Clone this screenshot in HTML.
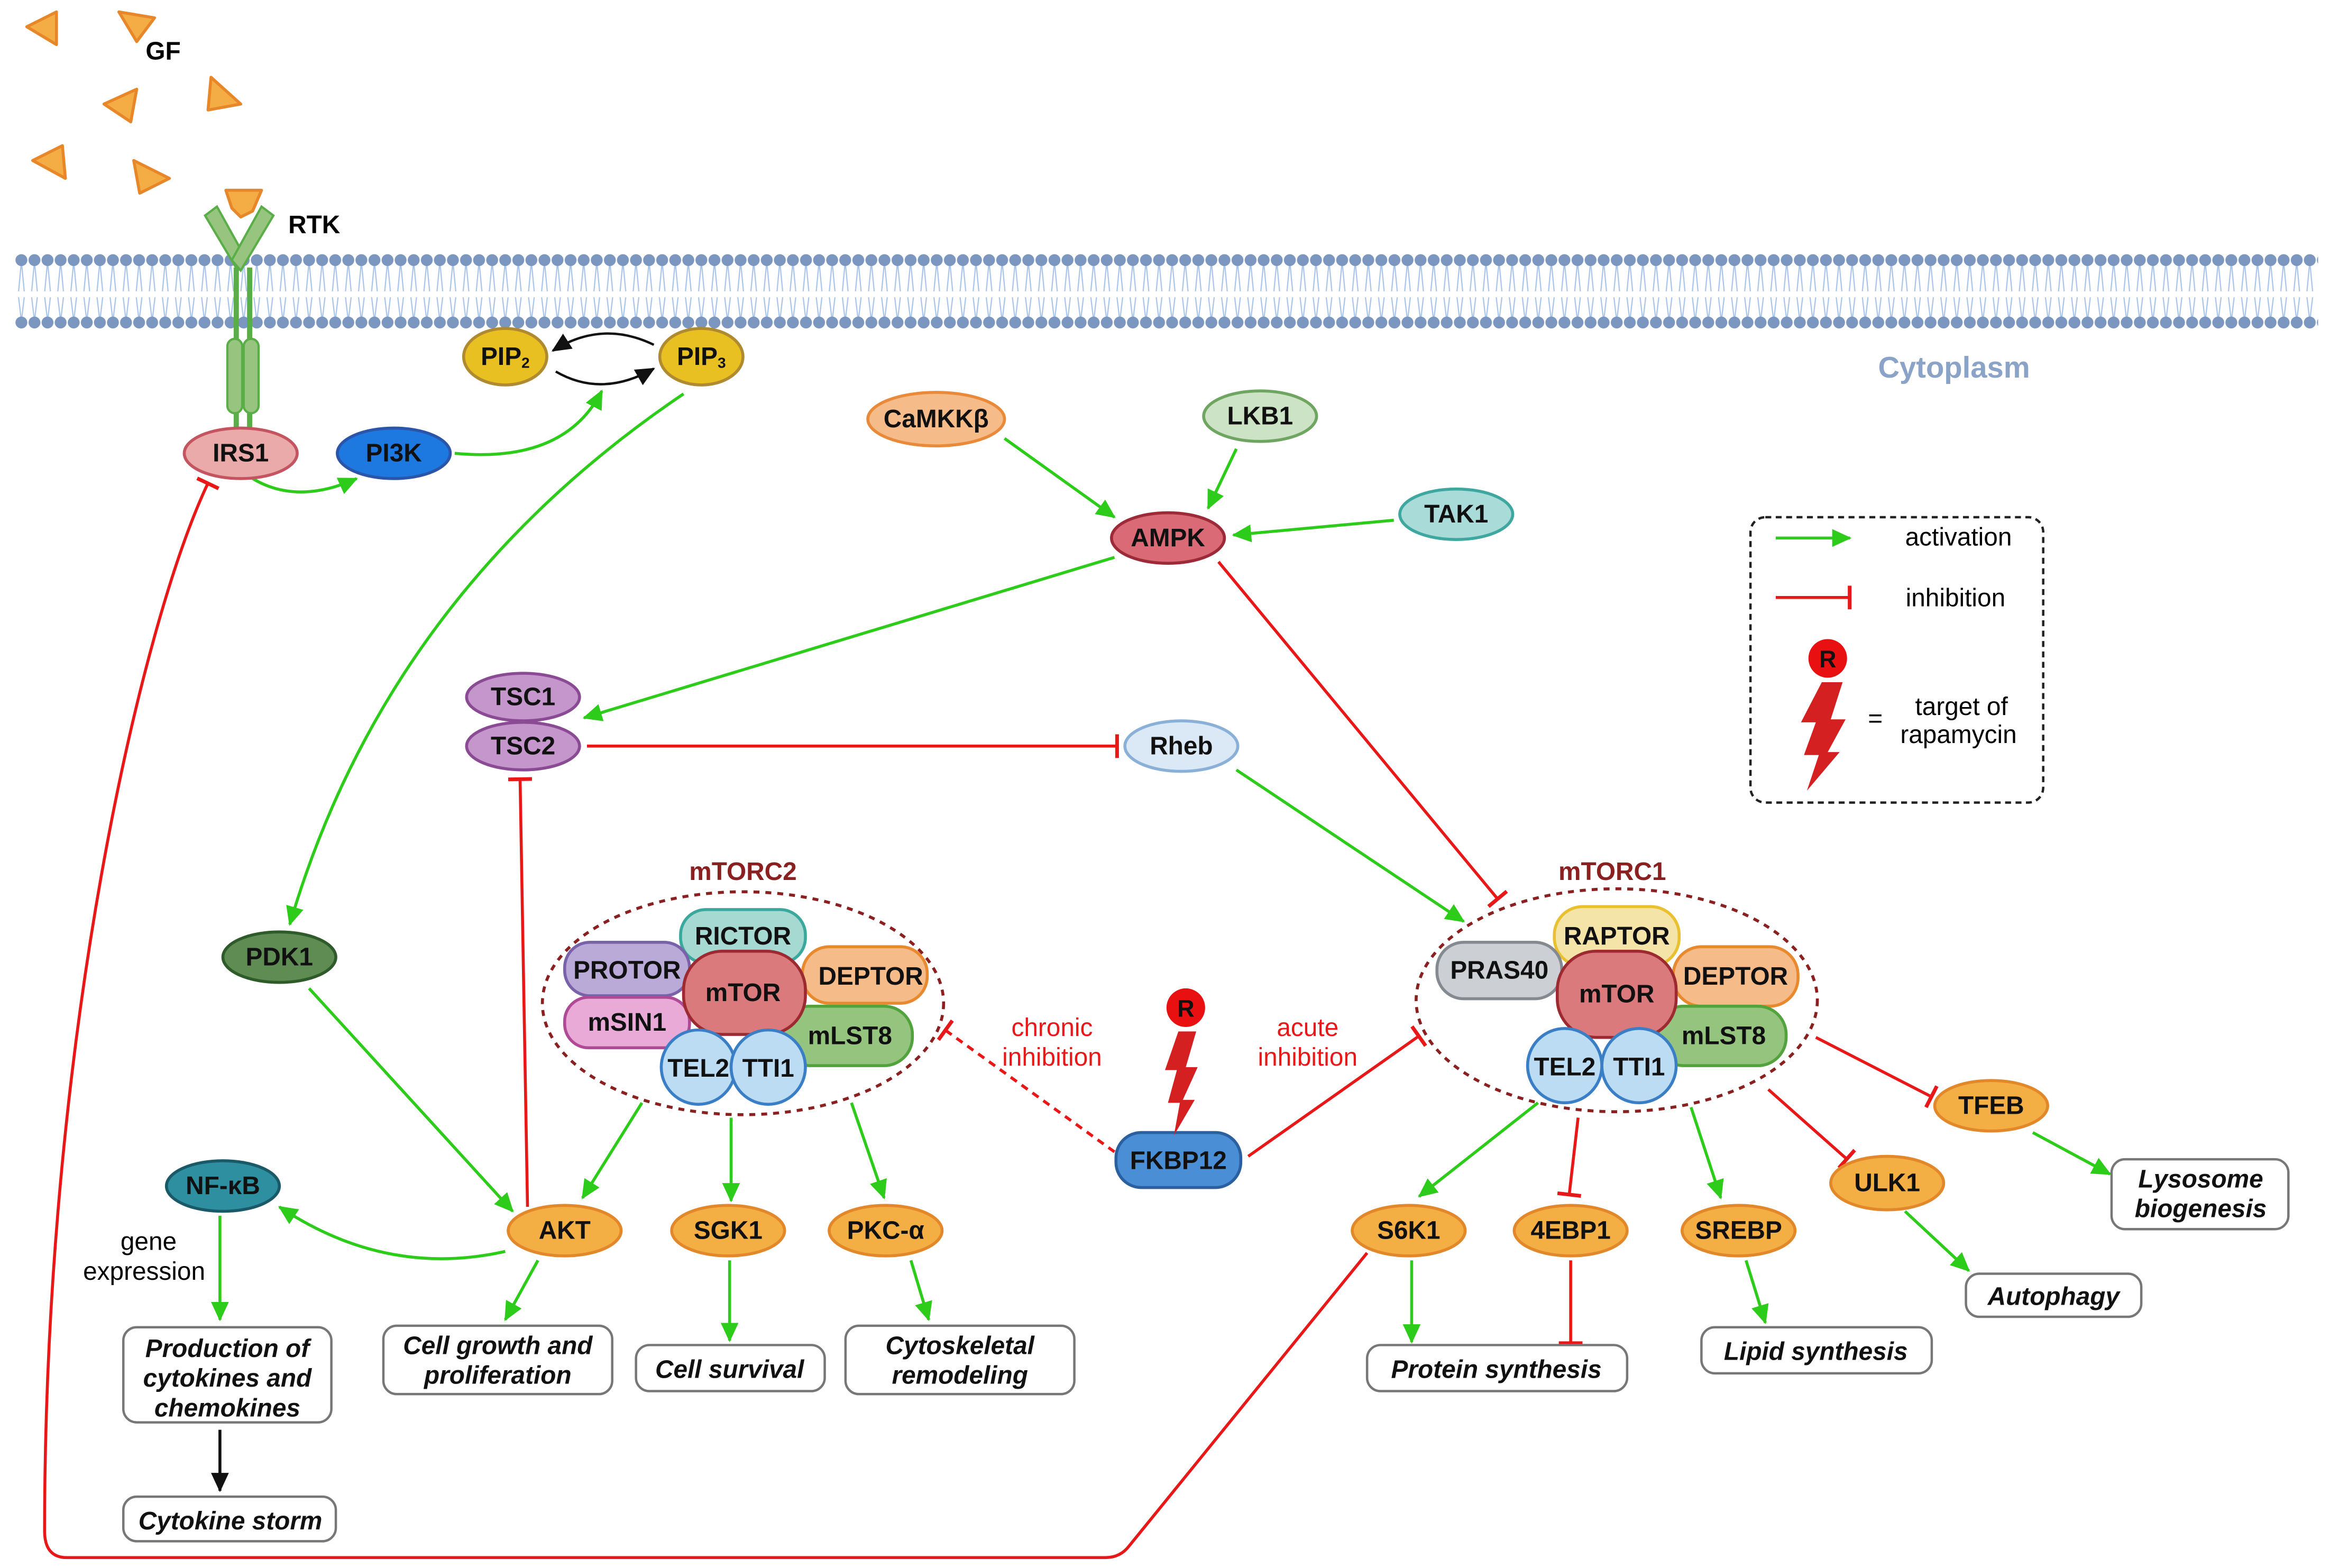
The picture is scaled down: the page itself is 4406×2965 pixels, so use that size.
<!DOCTYPE html>
<html><head><meta charset="utf-8"><style>
html,body{margin:0;padding:0;background:#fff;}
svg{display:block;}
text{font-family:"Liberation Sans",sans-serif;}
.n{font-weight:bold;font-size:17px;text-anchor:middle;dominant-baseline:central;fill:#111;}
.o{font-weight:bold;font-style:italic;font-size:17px;text-anchor:middle;fill:#111;}
</style></head><body>
<svg width="4406" height="2965" viewBox="0 0 1568 1055" preserveAspectRatio="none" xmlns="http://www.w3.org/2000/svg">
<defs>
<marker id="ga" markerUnits="userSpaceOnUse" markerWidth="14" markerHeight="12" refX="12" refY="6" orient="auto"><path d="M0,0 L13,6 L0,12 Z" fill="#2ecc1a"/></marker>
<marker id="ka" markerUnits="userSpaceOnUse" markerWidth="14" markerHeight="12" refX="12" refY="6" orient="auto"><path d="M0,0 L13,6 L0,12 Z" fill="#111"/></marker>
<marker id="rb" markerUnits="userSpaceOnUse" markerWidth="4" markerHeight="16" refX="2" refY="8" orient="auto"><rect x="0.5" y="0" width="2.5" height="16" fill="#e81818"/></marker>
<pattern id="mem" x="10" y="0" width="8.8" height="1055" patternUnits="userSpaceOnUse">
<path d="M4.4,176 L2.5,196 M4.4,176 L6.3,196 M2.5,200 L4.4,216 M6.3,200 L4.4,216" stroke="#a9c4ea" stroke-width="0.8" fill="none"/>
<circle cx="4.4" cy="175" r="4" fill="#7b96bf"/>
<circle cx="4.4" cy="217" r="4" fill="#7b96bf"/>
</pattern>
</defs>
<rect width="1568" height="1055" fill="#fff"/>
<rect x="10" y="168" width="1550" height="56" fill="url(#mem)"/>
<text x="1315" y="254" font-size="20" font-weight="bold" fill="#8aa3c6" text-anchor="middle">Cytoplasm</text>

<!-- GF -->
<g fill="#f3ad44" stroke="#e8872a" stroke-width="2" stroke-linejoin="round">
<path d="M18,18 L38,8 L38,30 Z"/>
<path d="M80,8 L104,12 L92,28 Z"/>
<path d="M142,52 L162,70 L140,74 Z"/>
<path d="M70,70 L92,60 L88,82 Z"/>
<path d="M22,108 L42,98 L44,120 Z"/>
<path d="M90,108 L114,120 L94,130 Z"/>
<path d="M152,128 L176,128 L170,142 L162,146 L156,140 Z"/>
</g>
<text x="98" y="40" font-size="17" font-weight="bold">GF</text>
<text x="194" y="157" font-size="17" font-weight="bold">RTK</text>
<!-- RTK -->
<g fill="#97c47f" stroke="#5aae47" stroke-width="1.5">
<path d="M138,145 L146,139 L166,175 L160,182 Z"/>
<path d="M184,145 L176,139 L156,175 L162,182 Z"/>
<line x1="159" y1="180" x2="159" y2="290" stroke-width="3.5"/>
<line x1="168" y1="180" x2="168" y2="290" stroke-width="3.5"/>
<rect x="153" y="228" width="10" height="50" rx="5"/>
<rect x="164" y="228" width="10" height="50" rx="5"/>
</g>

<!-- connectors green -->
<g fill="none" stroke="#2ecc1a" stroke-width="2" marker-end="url(#ga)">
<path d="M170,322 Q200,340 240,322"/>
<path d="M306,305 Q380,312 405,263"/>
<path d="M460,265 Q260,400 195,622"/>
<line x1="676" y1="295" x2="750" y2="348"/>
<line x1="832" y1="302" x2="813" y2="342"/>
<line x1="938" y1="350" x2="830" y2="360"/>
<line x1="750" y1="375" x2="393" y2="483"/>
<line x1="832" y1="518" x2="985" y2="620"/>
<line x1="208" y1="665" x2="345" y2="815"/>
<path d="M340,842 Q260,860 188,812"/>
<line x1="432" y1="742" x2="392" y2="806"/>
<line x1="492" y1="752" x2="492" y2="808"/>
<line x1="573" y1="742" x2="595" y2="806"/>
<line x1="362" y1="848" x2="340" y2="888"/>
<line x1="491" y1="848" x2="491" y2="902"/>
<line x1="613" y1="848" x2="625" y2="888"/>
<line x1="148" y1="818" x2="148" y2="888"/>
<line x1="1035" y1="742" x2="955" y2="805"/>
<line x1="1138" y1="745" x2="1158" y2="806"/>
<line x1="950" y1="848" x2="950" y2="903"/>
<line x1="1175" y1="848" x2="1188" y2="890"/>
<line x1="1282" y1="815" x2="1325" y2="855"/>
<line x1="1368" y1="762" x2="1420" y2="790"/>
<line x1="1195" y1="362" x2="1245" y2="362"/>
</g>
<line x1="148" y1="962" x2="148" y2="1003" stroke="#111" stroke-width="2" marker-end="url(#ka)"/>
<g fill="none" stroke="#111" stroke-width="1.6" marker-end="url(#ka)">
<path d="M440,232 Q405,215 372,236"/>
<path d="M374,250 Q405,268 440,248"/>
</g>
<!-- red -->
<g fill="none" stroke="#e81818" stroke-width="2" marker-end="url(#rb)">
<line x1="820" y1="378" x2="1008" y2="605"/>
<line x1="395" y1="502" x2="752" y2="502"/>
<line x1="355" y1="812" x2="350" y2="524"/>
<line x1="750" y1="775" x2="636" y2="693" stroke-dasharray="5,4"/>
<line x1="840" y1="778" x2="955" y2="697"/>
<line x1="1062" y1="752" x2="1056" y2="804"/>
<line x1="1190" y1="733" x2="1243" y2="780"/>
<line x1="1222" y1="698" x2="1300" y2="738"/>
<line x1="1057" y1="848" x2="1057" y2="904"/>
<path d="M920,843 L760,1040 Q754,1048 744,1048 L45,1048 Q30,1048 30,1030 C30,700 95,420 140,325"/>
<line x1="1195" y1="402" x2="1245" y2="402"/>
</g>

<!-- nodes -->
<g stroke-width="2">
<ellipse cx="340" cy="240" rx="28" ry="19" fill="#e8c021" stroke="#b08a30"/>
<ellipse cx="472" cy="240" rx="28" ry="19" fill="#e8c021" stroke="#b08a30"/>
<ellipse cx="162" cy="305" rx="38" ry="17" fill="#eaaaa9" stroke="#c45560"/>
<ellipse cx="265" cy="305" rx="38" ry="17" fill="#1d78e0" stroke="#2a55a8"/>
<ellipse cx="630" cy="282" rx="46" ry="18" fill="#f5bb88" stroke="#e88a3a"/>
<ellipse cx="848" cy="280" rx="38" ry="17" fill="#cce3c6" stroke="#6ea560"/>
<ellipse cx="980" cy="346" rx="38" ry="17" fill="#a9dcd8" stroke="#3ea8a0"/>
<ellipse cx="786" cy="362" rx="38" ry="17" fill="#d96a76" stroke="#9c2a38"/>
<ellipse cx="352" cy="469" rx="38" ry="16" fill="#c596cc" stroke="#8a4a94"/>
<ellipse cx="352" cy="502" rx="38" ry="16" fill="#c596cc" stroke="#8a4a94"/>
<ellipse cx="795" cy="502" rx="38" ry="17" fill="#dbe9f7" stroke="#8ab0d8"/>
<ellipse cx="188" cy="644" rx="38" ry="17" fill="#5e8c52" stroke="#2f5a2a"/>
<ellipse cx="150" cy="798" rx="38" ry="17" fill="#2d8fa0" stroke="#1a5a68"/>
<ellipse cx="380" cy="828" rx="38" ry="17" fill="#f3ae44" stroke="#e2882a"/>
<ellipse cx="490" cy="828" rx="38" ry="17" fill="#f3ae44" stroke="#e2882a"/>
<ellipse cx="596" cy="828" rx="38" ry="17" fill="#f3ae44" stroke="#e2882a"/>
<ellipse cx="948" cy="828" rx="38" ry="17" fill="#f3ae44" stroke="#e2882a"/>
<ellipse cx="1057" cy="828" rx="38" ry="17" fill="#f3ae44" stroke="#e2882a"/>
<ellipse cx="1170" cy="828" rx="38" ry="17" fill="#f3ae44" stroke="#e2882a"/>
<ellipse cx="1270" cy="796" rx="38" ry="18" fill="#f3ae44" stroke="#e2882a"/>
<ellipse cx="1340" cy="744" rx="38" ry="17" fill="#f3ae44" stroke="#e2882a"/>
<rect x="751" y="762" width="84" height="37" rx="17" fill="#4a8fd6" stroke="#2a5fa0"/>
</g>
<text class="n" x="340" y="240">PIP<tspan font-size="10" dy="4">2</tspan></text>
<text class="n" x="472" y="240">PIP<tspan font-size="10" dy="4">3</tspan></text>
<text class="n" x="162" y="305">IRS1</text>
<text class="n" x="265" y="305">PI3K</text>
<text class="n" x="630" y="282">CaMKKβ</text>
<text class="n" x="848" y="280">LKB1</text>
<text class="n" x="980" y="346">TAK1</text>
<text class="n" x="786" y="362">AMPK</text>
<text class="n" x="352" y="469">TSC1</text>
<text class="n" x="352" y="502">TSC2</text>
<text class="n" x="795" y="502">Rheb</text>
<text class="n" x="188" y="644">PDK1</text>
<text class="n" x="150" y="798">NF-κB</text>
<text class="n" x="380" y="828">AKT</text>
<text class="n" x="490" y="828">SGK1</text>
<text class="n" x="596" y="828">PKC-α</text>
<text class="n" x="948" y="828">S6K1</text>
<text class="n" x="1057" y="828">4EBP1</text>
<text class="n" x="1170" y="828">SREBP</text>
<text class="n" x="1270" y="796">ULK1</text>
<text class="n" x="1340" y="744">TFEB</text>
<text class="n" x="793" y="781">FKBP12</text>

<!-- mTORC2 -->
<ellipse cx="500" cy="675" rx="135" ry="75" fill="none" stroke="#8b2020" stroke-width="2" stroke-dasharray="4,4"/>
<text x="500" y="592" font-size="17" font-weight="bold" fill="#8b2020" text-anchor="middle">mTORC2</text>
<g stroke-width="2">
<rect x="458" y="612" width="84" height="36" rx="17" fill="#a5d9d2" stroke="#3aa89c"/>
<rect x="380" y="634" width="84" height="36" rx="17" fill="#b9aad8" stroke="#7a62aa"/>
<rect x="540" y="637" width="84" height="38" rx="18" fill="#f5bb88" stroke="#e8892e"/>
<rect x="380" y="671" width="84" height="34" rx="16" fill="#e9aad8" stroke="#b04a96"/>
<rect x="526" y="677" width="88" height="40" rx="19" fill="#94c47e" stroke="#52a23e"/>
<rect x="460" y="640" width="82" height="56" rx="26" fill="#db7a7c" stroke="#9c2a30"/>
<circle cx="470" cy="718" r="25" fill="#bcdcf4" stroke="#3a7fc6"/>
<circle cx="517" cy="718" r="25" fill="#bcdcf4" stroke="#3a7fc6"/>
</g>
<text class="n" x="500" y="630">RICTOR</text>
<text class="n" x="422" y="653">PROTOR</text>
<text class="n" x="586" y="657">DEPTOR</text>
<text class="n" x="422" y="688">mSIN1</text>
<text class="n" x="572" y="697">mLST8</text>
<text class="n" x="500" y="668">mTOR</text>
<text class="n" x="470" y="719">TEL2</text>
<text class="n" x="517" y="719">TTI1</text>

<!-- mTORC1 -->
<ellipse cx="1088" cy="673" rx="135" ry="75" fill="none" stroke="#8b2020" stroke-width="2" stroke-dasharray="4,4"/>
<text x="1085" y="592" font-size="17" font-weight="bold" fill="#8b2020" text-anchor="middle">mTORC1</text>
<g stroke-width="2">
<rect x="1046" y="610" width="84" height="40" rx="19" fill="#f5e4a8" stroke="#e8c030"/>
<rect x="967" y="634" width="84" height="38" rx="18" fill="#ccd0d4" stroke="#848a90"/>
<rect x="1126" y="637" width="84" height="40" rx="19" fill="#f5bb88" stroke="#e8892e"/>
<rect x="1114" y="677" width="88" height="40" rx="19" fill="#94c47e" stroke="#52a23e"/>
<rect x="1048" y="640" width="80" height="58" rx="26" fill="#db7a7c" stroke="#9c2a30"/>
<circle cx="1053" cy="717" r="25" fill="#bcdcf4" stroke="#3a7fc6"/>
<circle cx="1103" cy="717" r="25" fill="#bcdcf4" stroke="#3a7fc6"/>
</g>
<text class="n" x="1088" y="630">RAPTOR</text>
<text class="n" x="1009" y="653">PRAS40</text>
<text class="n" x="1168" y="657">DEPTOR</text>
<text class="n" x="1160" y="697">mLST8</text>
<text class="n" x="1088" y="669">mTOR</text>
<text class="n" x="1053" y="718">TEL2</text>
<text class="n" x="1103" y="718">TTI1</text>

<!-- rapamycin -->
<circle cx="798" cy="678" r="13" fill="#e81010"/>
<text x="798" y="684" font-size="16" font-weight="bold" text-anchor="middle" fill="#111">R</text>
<path d="M793,694 L805,694 L798,718 L806,718 L796,740 L804,740 L790,764 L794,742 L786,742 L792,720 L784,720 Z" fill="#d42020"/>
<text x="708" y="697" font-size="17" fill="#e81818" text-anchor="middle">chronic</text>
<text x="708" y="717" font-size="17" fill="#e81818" text-anchor="middle">inhibition</text>
<text x="880" y="697" font-size="17" fill="#e81818" text-anchor="middle">acute</text>
<text x="880" y="717" font-size="17" fill="#e81818" text-anchor="middle">inhibition</text>

<text x="100" y="841" font-size="17" text-anchor="middle">gene</text>
<text x="97" y="861" font-size="17" text-anchor="middle">expression</text>

<!-- outcome boxes -->
<g fill="#fff" stroke="#777" stroke-width="1.6">
<rect x="83" y="893" width="140" height="64" rx="9"/>
<rect x="83" y="1007" width="143" height="30" rx="9"/>
<rect x="258" y="892" width="154" height="46" rx="9"/>
<rect x="428" y="905" width="127" height="31" rx="9"/>
<rect x="569" y="892" width="154" height="46" rx="9"/>
<rect x="920" y="905" width="175" height="31" rx="9"/>
<rect x="1145" y="893" width="155" height="31" rx="9"/>
<rect x="1323" y="857" width="118" height="29" rx="9"/>
<rect x="1421" y="780" width="119" height="47" rx="9"/>
</g>
<text class="o" x="153" y="913">Production of</text>
<text class="o" x="153" y="933">cytokines and</text>
<text class="o" x="153" y="953">chemokines</text>
<text class="o" x="155" y="1029">Cytokine storm</text>
<text class="o" x="335" y="911">Cell growth and</text>
<text class="o" x="335" y="931">proliferation</text>
<text class="o" x="491" y="927">Cell survival</text>
<text class="o" x="646" y="911">Cytoskeletal</text>
<text class="o" x="646" y="931">remodeling</text>
<text class="o" x="1007" y="927">Protein synthesis</text>
<text class="o" x="1222" y="915">Lipid synthesis</text>
<text class="o" x="1382" y="878">Autophagy</text>
<text class="o" x="1481" y="799">Lysosome</text>
<text class="o" x="1481" y="819">biogenesis</text>

<!-- legend -->
<rect x="1178" y="348" width="197" height="192" rx="10" fill="none" stroke="#222" stroke-width="1.6" stroke-dasharray="4,3"/>
<text x="1318" y="367" font-size="17" text-anchor="middle">activation</text>
<text x="1316" y="408" font-size="17" text-anchor="middle">inhibition</text>
<circle cx="1230" cy="443" r="13" fill="#e81010"/>
<text x="1230" y="449" font-size="16" font-weight="bold" text-anchor="middle" fill="#111">R</text>
<path d="M1226,459 L1240,459 L1232,484 L1242,484 L1230,506 L1238,506 L1216,532 L1224,508 L1214,508 L1222,486 L1212,486 Z" fill="#d42020"/>
<text x="1262" y="489" font-size="17" text-anchor="middle">=</text>
<text x="1320" y="481" font-size="17" text-anchor="middle">target of</text>
<text x="1318" y="500" font-size="17" text-anchor="middle">rapamycin</text>
</svg>
</body></html>
